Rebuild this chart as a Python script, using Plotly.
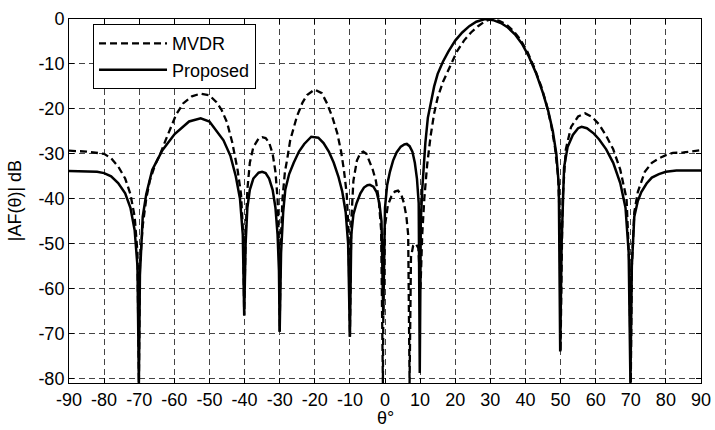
import plotly.graph_objects as go

# ---- data ----
theta_mvdr = [-90, -85, -80, -78, -76, -74, -72.5, -71.3, -70.5, -70.1,
              -69.8, -69, -68, -67, -65.5, -64, -62.5, -61, -59.5, -57.5, -55, -52.5, -50, -48, -46.5, -45, -43.5, -42, -41, -40.4, -40.1,
              -39.7, -39.2, -38.5, -37.5, -36, -35, -34, -33, -32, -31.2, -30.6, -30.2, -30,
              -29.7, -29.2, -28.5, -27.9, -27, -25.1, -23.5, -22.2, -20, -18, -16.5, -15, -13.6, -12.5, -11.7, -10.9, -10.4, -10,
              -9.6, -9, -8, -7, -6.2, -5.3, -4.5, -3.5, -2.6, -1.8, -1.1, -0.6,
              -0.4, 0, 0.8, 1.8, 2.8, 3.7, 4.6, 5.4, 6.1, 6.6, 7.0,
              7.4, 8, 8.8, 9.5, 10.1,
              10.6, 11.2, 12, 13, 14, 15, 16.5, 18.5, 20.5, 22.5, 24.5, 26.5, 28.5, 30.5, 32.5, 34.5, 36.5, 38.5, 40.5, 42.5, 44.5, 46, 47.3, 48.4, 49.3, 49.8, 50,
              50.3, 50.6, 51.5, 53, 55, 57, 59, 61, 63, 65, 67, 68.8, 69.6, 70,
              70.3, 71, 72, 74, 76, 78, 80, 82, 85, 87, 90]
af_mvdr = [-29.3, -29.5, -30, -31, -32.8, -35.5, -39, -44, -52, -81,
           -55, -46, -40, -36, -32.5, -30, -27, -24, -21.3, -18.8, -17.2, -16.6, -17, -18.5, -20.3, -23, -27.5, -33.5, -39, -48, -66,
           -48, -38, -32, -28.5, -26.6, -26.3, -26.5, -27.5, -30, -34, -40, -50, -69.6,
           -50, -40, -34, -31.4, -27, -21.7, -18.6, -16.9, -15.7, -16.5, -18.8, -21.8, -25.4, -29.5, -33.6, -39, -47, -70.7,
           -45, -36, -31.5, -29.8, -29.5, -30, -31.4, -33.5, -36, -40, -47, -81,
           -55, -46, -41.5, -39.5, -38.4, -38.2, -39, -41, -44, -48, -81,
           -53, -50.5, -50, -51, -60,
           -48, -40, -32.5, -26, -21, -17.5, -14, -10.5, -7.2, -4.8, -3, -1.6, -0.5, 0, -0.4, -1.2, -2.6, -4.5, -7.2, -10.8, -15, -19, -23.5, -28.5, -35, -45, -74,
           -55, -40, -29, -24, -21.7, -21, -21.8, -23.5, -26, -29, -33.5, -40, -55, -81,
           -55, -43, -38.5, -34, -32, -31, -30.3, -29.8, -29.7, -29.5, -29.2]

theta_prop = [-90, -82, -80, -78, -76, -74, -72.5, -71.3, -70.5, -70.1,
              -69.8, -69, -68, -66.3, -63.4, -59.9, -55.8, -52.5, -50, -48, -46, -44, -42.5, -41.3, -40.5, -40.1,
              -39.7, -39.2, -38.5, -37.5, -36, -35, -34, -33, -32, -31.2, -30.6, -30.2, -30,
              -29.6, -29, -28.4, -27.3, -26, -24.5, -23, -21, -19, -17.5, -16, -14.6, -13.3, -12.2, -11.2, -10.5, -10,
              -9.6, -9, -8.1, -7, -6, -5, -4.3, -3.3, -2.4, -1.6, -1, -0.5,
              -0.3, 0, 0.6, 1.4, 2.3, 3.3, 4.5, 5.5, 6.2, 7, 7.8, 8.5, 9.1, 9.6, 9.9,
              10.2, 10.6, 11, 11.5, 12.2, 13, 14, 15, 16.5, 18, 20, 22, 24, 26, 28.5, 31, 33, 35, 37, 39, 41, 43, 45, 46.5, 47.8, 48.8, 49.5, 49.9,
              50.3, 51, 52, 53.5, 55, 56, 57.5, 59.5, 61, 63, 65, 67, 68.5, 69.4, 69.9,
              70.3, 71, 72, 73, 74.5, 76, 78, 80, 83, 90]
af_prop = [-33.8, -34, -34.3, -35, -36.5, -38.8, -42, -47, -55, -81,
           -57, -44, -39, -33.6, -29.2, -25.6, -22.8, -22.1, -22.8, -25, -27, -30.5, -35, -40, -48, -66,
           -50, -42, -38, -35.5, -34.2, -34, -34.3, -35.5, -38, -42, -48, -56, -69.6,
           -52, -43, -38, -34.5, -32, -29.5, -27.8, -26.2, -26.4, -27.6, -29.5, -32, -35, -38.3, -43, -50, -70.7,
           -48, -43.5, -41, -38.8, -37.5, -37, -36.9, -37.3, -38.5, -41, -45, -66,
           -50, -42, -37, -34, -31.5, -29.7, -28.4, -27.9, -27.8, -28.3, -29.5, -32, -35.5, -41, -78.8,
           -45, -38, -32, -27.5, -22, -18.5, -15, -12.2, -9.5, -7.3, -4.8, -3, -1.6, -0.6, 0, -0.3, -0.9, -1.9, -3.4, -5.5, -8.4, -12, -16.5, -20.5, -25, -30, -37, -74,
           -50, -33, -28.5, -25.8, -24.3, -24, -24.3, -25.5, -26.8, -29, -32, -36.5, -42, -52, -81,
           -55, -44, -40.5, -38.5, -36.6, -35.3, -34.5, -34, -33.7, -33.7]

x_ticks = list(range(-90, 91, 10))
y_ticks = list(range(-80, 1, 10))

FONT = "Liberation Sans, Arial, Helvetica, sans-serif"
FS = 18

fig = go.Figure()
fig.add_trace(go.Scatter(x=theta_mvdr, y=af_mvdr, mode="lines", name="MVDR",
                         line=dict(color="black", width=2.3, dash="7px,4px")))
fig.add_trace(go.Scatter(x=theta_prop, y=af_prop, mode="lines", name="Proposed",
                         line=dict(color="black", width=2.5)))

axis_common = dict(showline=True, linecolor="black", linewidth=1, mirror="ticks",
                   ticks="inside", ticklen=5, tickcolor="black", automargin=False,
                   showgrid=True, gridcolor="#444", gridwidth=1, griddash="6px,4px",
                   zeroline=False, tickfont=dict(family=FONT, size=FS, color="black"))

fig.update_xaxes(range=[-90, 90], tickvals=x_ticks, ticktext=[str(v) for v in x_ticks],
                 **axis_common)
fig.update_yaxes(range=[-81, 0], tickvals=y_ticks, ticktext=[str(v) for v in y_ticks],
                 **axis_common)

fig.add_annotation(text="θ°", xref="paper", yref="paper", x=0.5, y=-0.062,
                   xanchor="center", yanchor="top", showarrow=False,
                   font=dict(family=FONT, size=FS, color="black"))
fig.add_annotation(text="|AF(θ)| dB", xref="paper", yref="paper", x=-0.085, y=0.5,
                   xanchor="center", yanchor="middle", textangle=-90, showarrow=False,
                   font=dict(family=FONT, size=FS, color="black"))

fig.update_layout(
    width=715, height=430,
    margin=dict(l=69, r=14, t=19, b=47),
    paper_bgcolor="white", plot_bgcolor="white",
    showlegend=True,
    legend=dict(x=0.038, y=0.986, xanchor="left", yanchor="top",
                bgcolor="white", bordercolor="black", borderwidth=1,
                font=dict(family=FONT, size=18, color="black"),
                itemwidth=68, tracegroupgap=0),
    font=dict(family=FONT, size=FS, color="black"),
)

fig.write_html("out.html", config={"displayModeBar": False},
               post_script="document.body.style.margin='0';document.body.style.padding='0';")
